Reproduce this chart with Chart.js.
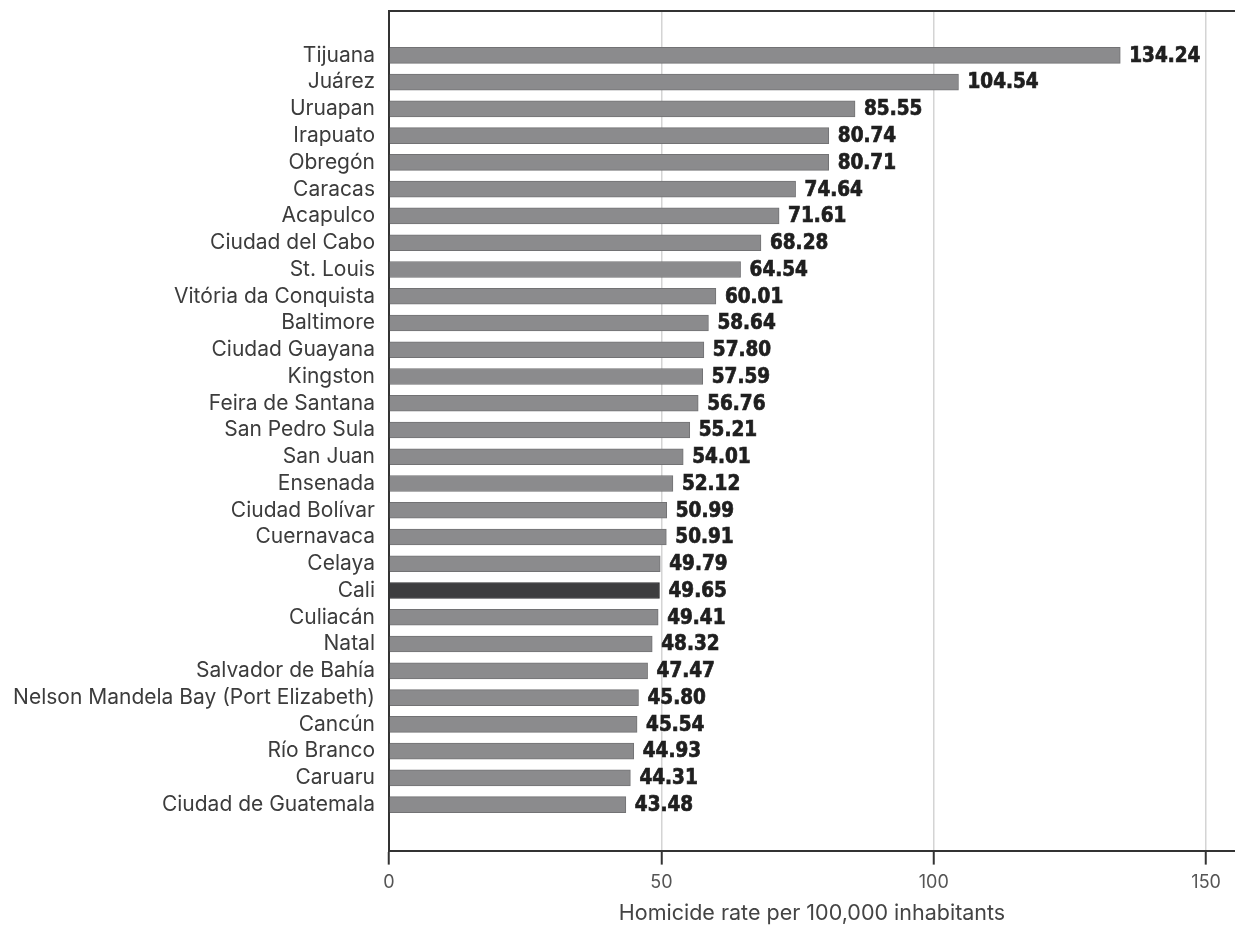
<!DOCTYPE html>
<html>
<head>
<meta charset="utf-8">
<script src="https://cdn.jsdelivr.net/npm/chart.js@4/dist/chart.umd.min.js"></script>
<style>
    body { margin: 0; background: #fff; }
    #wrap { width: 1235px; height: 928px; }
</style>
</head>
<body>
<div id="wrap"><canvas id="homicideChart"></canvas></div>
<script>
const cities = [
    'Tijuana', 'Juárez', 'Uruapan', 'Irapuato', 'Obregón', 'Caracas', 'Acapulco',
    'Ciudad del Cabo', 'St. Louis', 'Vitória da Conquista', 'Baltimore', 'Ciudad Guayana',
    'Kingston', 'Feira de Santana', 'San Pedro Sula', 'San Juan', 'Ensenada',
    'Ciudad Bolívar', 'Cuernavaca', 'Celaya', 'Cali', 'Culiacán', 'Natal',
    'Salvador de Bahía', 'Nelson Mandela Bay (Port Elizabeth)', 'Cancún', 'Río Branco',
    'Caruaru', 'Ciudad de Guatemala'
];
const rates = [
    134.24, 104.54, 85.55, 80.74, 80.71, 74.64, 71.61, 68.28, 64.54, 60.01,
    58.64, 57.80, 57.59, 56.76, 55.21, 54.01, 52.12, 50.99, 50.91, 49.79,
    49.65, 49.41, 48.32, 47.47, 45.80, 45.54, 44.93, 44.31, 43.48
];
const highlight = 'Cali';
const xTicks = [0, 50, 100, 150];

// value labels at the end of each bar
const valueLabels = {
    id: 'valueLabels',
    afterDatasetsDraw(chart) {
        const ctx = chart.ctx;
        ctx.save();
        ctx.font = 'bold 20.5px "DejaVu Sans Condensed", "DejaVu Sans", sans-serif';
        ctx.fillStyle = '#1f1f1f';
        ctx.strokeStyle = '#1f1f1f';
        ctx.lineWidth = 0.7;
        ctx.textAlign = 'left';
        ctx.textBaseline = 'middle';
        chart.getDatasetMeta(0).data.forEach((bar, i) => {
            const txt = rates[i].toFixed(2);
            ctx.fillText(txt, bar.x + 9, bar.y + 1);
            ctx.strokeText(txt, bar.x + 9, bar.y + 1);
        });
        ctx.restore();
    }
};

window.onload = function() {
    const ctx = document.getElementById('homicideChart').getContext('2d');
    new Chart(ctx, {
        type: 'bar',
        data: {
            datasets: [{
                data: rates.map((v, i) => ({ x: v, y: i })),
                backgroundColor: cities.map(c => c === highlight ? '#3d3d3f' : '#8b8b8d'),
                borderColor: cities.map(c => c === highlight ? '#2e2e30' : '#727274'),
                borderWidth: 1,
                borderSkipped: 'left',
                barThickness: 16
            }]
        },
        options: {
            responsive: true,
            maintainAspectRatio: false,
            animation: false,
            indexAxis: 'y',
            layout: { padding: { top: 11, right: 0, bottom: 0, left: 0 } },
            plugins: {
                legend: { display: false },
                tooltip: { enabled: false }
            },
            scales: {
                y: {
                    type: 'linear',
                    reverse: true,
                    offset: false,
                    min: -1.66,
                    max: 29.72,
                    afterBuildTicks: s => { s.ticks = cities.map((c, i) => ({ value: i })); },
                    afterFit: s => {
                        s.width = 389;
                        s.paddingTop = 0;
                        s.paddingBottom = 0;
                    },
                    ticks: {
                        autoSkip: false,
                        padding: 14,
                        color: '#3c3c3c',
                        font: { family: 'Inter', size: 21 },
                        callback: v => cities[v]
                    },
                    grid: { display: false, drawTicks: false },
                    border: { display: true, color: '#333', width: 2 }
                },
                x: {
                    position: 'bottom',
                    min: 0,
                    max: 155.3,
                    afterBuildTicks: s => { s.ticks = xTicks.map(v => ({ value: v })); },
                    ticks: {
                        padding: 7,
                        color: '#555',
                        font: { family: 'Inter', size: 18 }
                    },
                    grid: {
                        color: '#d4d4d4',
                        lineWidth: 1.5,
                        tickColor: '#333',
                        tickWidth: 2,
                        tickLength: 14
                    },
                    border: { display: true, color: '#333', width: 2 },
                    title: {
                        display: true,
                        text: 'Homicide rate per 100,000 inhabitants',
                        color: '#444',
                        font: { family: 'Inter', size: 21.5 },
                        padding: { top: 0, bottom: 2 }
                    }
                },
                xTop: {
                    axis: 'x',
                    position: 'top',
                    min: 0,
                    max: 155.3,
                    ticks: { display: false },
                    grid: { display: false, drawTicks: false },
                    border: { display: true, color: '#333', width: 2 }
                }
            }
        },
        plugins: [valueLabels]
    });
};
</script>
</body>
</html>
